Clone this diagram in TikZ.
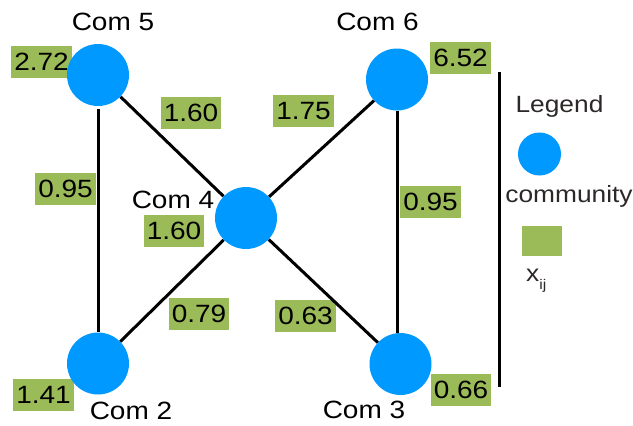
\documentclass[tikz,border=0pt]{standalone}
\usepackage{fontspec}
\setmainfont{Liberation Sans}
\newfontfamily\labfont{Liberation Sans}[FakeStretch=1.12]
\pgfdeclarelayer{bg}
\pgfsetlayers{bg,main}
\definecolor{comblue}{RGB}{0,153,255}
\definecolor{xgreen}{RGB}{155,187,89}
\definecolor{legtext}{RGB}{45,40,40}
\begin{document}
\begin{tikzpicture}[x=1pt,y=-1pt,
  com/.style={circle,fill=comblue,minimum size=62pt,inner sep=0pt},
  xbox/.style={fill=xgreen,inner xsep=3pt,inner ysep=0pt,minimum height=32pt,
    font=\labfont\fontsize{25}{30}\selectfont},
  comname/.style={anchor=base,inner sep=0pt,font=\labfont\fontsize{25}{30}\selectfont},
  legname/.style={anchor=base,inner sep=0pt,text=legtext,font=\labfont\fontsize{23.5}{28}\selectfont},
  link/.style={line width=3pt,black},
]
\useasboundingbox (0,0) rectangle (633,426);

% communities
\node[com] (c5) at (98,75) {};
\node[com] (c6) at (397,79.5) {};
\node[com] (c4) at (246,218) {};
\node[com] (c2) at (98,363.5) {};
\node[com] (c3) at (400.5,364) {};

% names
\node[comname] (n5) at (113,30) {Com 5};
\node[comname] (n6) at (377.5,30) {Com 6};
\node[comname] (n4) at (173,208) {Com 4};
\node[comname] (n2) at (131,419) {Com 2};
\node[comname] (n3) at (364,418) {Com 3};

\begin{pgfonlayer}{bg}
  % x_ij boxes
  \node[xbox] (x5) at (41.5,61.5) {2.72};
  \node[xbox] (x6) at (460.5,57.5) {6.52};
  \node[xbox] (x4) at (174,231) {1.60};
  \node[xbox] (x2) at (43.5,395) {1.41};
  \node[xbox] (x3) at (461,390) {0.66};
  % edge values
  \node[xbox] (e54) at (191,112.5) {1.60};
  \node[xbox] (e64) at (303.5,111) {1.75};
  \node[xbox] (e52) at (65.5,189) {0.95};
  \node[xbox] (e63) at (430.5,201.5) {0.95};
  \node[xbox] (e42) at (199,314) {0.79};
  \node[xbox] (e43) at (305.5,316) {0.63};
  % links
  \draw[link,shorten <=3pt] (c5) -- (c2);
  \draw[link] (c6.south) -- (c6.south |- c3.north);
  \draw[link] (c5) -- (c4);
  \draw[link] (c6) -- (c4);
  \draw[link] (c4) -- (c2);
  \draw[link] (c4) -- (c3);
\end{pgfonlayer}

% legend
\coordinate (sepTop) at (499,72);
\coordinate (sepBot) at (499,387);
\draw[line width=3pt] (sepTop) -- (sepBot);
\node[legname] (legend) at (559.5,112.5) {Legend};
\node[circle,fill=comblue,minimum size=43pt,inner sep=0pt] (legcom) at (539.5,154) {};
\node[legname] (legcomtxt) at (569,202.5) {community};
\node[fill=xgreen,minimum width=40pt,minimum height=30pt,inner sep=0pt] (legx) at (542,241) {};
\node[legname,anchor=base west] (legxtxt) at (526,281) {x\raisebox{-8pt}{\fontsize{14}{14}\selectfont ij}};
\end{tikzpicture}
\end{document}
